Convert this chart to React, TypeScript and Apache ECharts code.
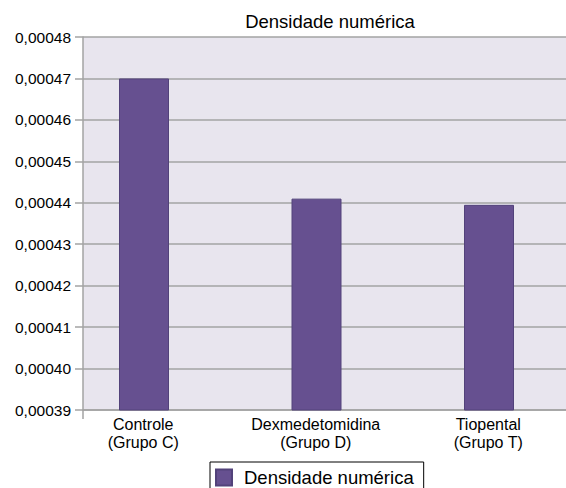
import React, { useEffect, useRef } from "react";
import * as echarts from "echarts";

const categories = ["Controle\n(Grupo C)", "Dexmedetomidina\n(Grupo D)", "Tiopental\n(Grupo T)"];
const values = [0.00047, 0.000441, 0.0004395];
const seriesName = "Densidade numérica";
const titleText = "Densidade numérica";
const yMin = 0.00039;
const yMax = 0.00048;
const yStep = 0.00001;

export default function App() {
  const ref = useRef<HTMLDivElement>(null);
  useEffect(() => {
    if (!ref.current) return;
    const chart = echarts.init(ref.current, undefined, { renderer: "svg" });
    const font = "Liberation Sans, Arial, Helvetica, sans-serif";
    chart.setOption({
      animation: false,
      backgroundColor: "#ffffff",
      textStyle: { fontFamily: font },
      title: {
        text: titleText,
        left: 325,
        textAlign: "center",
        top: 7,
        textStyle: { fontFamily: font, fontSize: 18.5, fontWeight: "normal", color: "#000" },
      },
      legend: {
        data: [seriesName],
        left: 210,
        top: 462,
        borderColor: "#000",
        borderWidth: 1,
        borderRadius: 0,
        padding: [6, 10, 10, 5],
        itemWidth: 16,
        itemHeight: 16,
        icon: "rect",
        textStyle: { fontFamily: font, fontSize: 18.5, color: "#000", padding: [0, 0, 0, 7] },
      },
      grid: {
        left: 83,
        right: 0.5,
        top: 37,
        bottom: 78,
        show: true,
        backgroundColor: "#e8e5ee",
        borderWidth: 0,
      },
      xAxis: {
        type: "category",
        data: categories,
        boundaryGap: true,
        axisLine: { show: true, lineStyle: { color: "#a3a3a3", width: 1.5 } },
        axisTick: { show: false },
        axisLabel: {
          fontFamily: font,
          fontSize: 16,
          color: "#000",
          lineHeight: 18,
          margin: 5,
          padding: [0, 52, 0, 0],
        },
      },
      yAxis: {
        type: "value",
        min: yMin,
        max: yMax,
        interval: yStep,
        axisLine: { show: true, lineStyle: { color: "#a3a3a3", width: 1.5 } },
        axisTick: { show: true, length: 8, lineStyle: { color: "#a3a3a3", width: 1.5 } },
        splitLine: { show: true, lineStyle: { color: "#a3a3a3", width: 1.5 } },
        axisLabel: {
          fontFamily: font,
          fontSize: 15.5,
          color: "#000",
          margin: 12,
          formatter: (v: number) => v.toFixed(5).replace(".", ","),
        },
      },
      graphic: [
        {
          type: "line",
          shape: { x1: 83, y1: 410, x2: 83, y2: 419 },
          style: { stroke: "#a3a3a3", lineWidth: 1.5 },
        },
      ],
      series: [
        {
          name: seriesName,
          type: "bar",
          data: values,
          barWidth: 50,
          barGap: "1%",
          itemStyle: { color: "#665090", borderColor: "#52427a", borderWidth: 1 },
        },
        {
          name: "_spacer",
          type: "bar",
          data: categories.map(() => null),
          barWidth: 50,
          itemStyle: { color: "transparent" },
          silent: true,
        },
      ],
    });
    return () => chart.dispose();
  }, []);
  return (
    <div
      ref={ref}
      style={{ position: "fixed", left: 0, top: 0, width: 601, height: 488 }}
    />
  );
}
